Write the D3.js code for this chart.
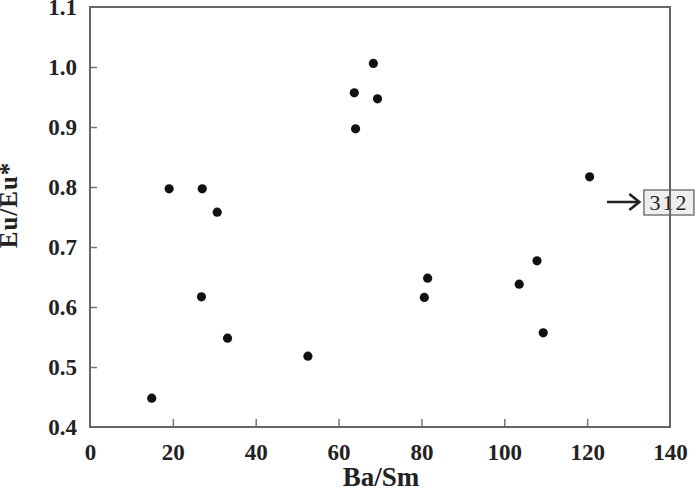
<!DOCTYPE html>
<html>
<head>
<meta charset="utf-8">
<script src="https://cdn.jsdelivr.net/npm/d3@7"></script>
<style>
  body { margin: 0; background: #fff; }
  text { font-family: "Liberation Serif", "DejaVu Serif", serif; font-weight: bold; fill: #222; }
</style>
</head>
<body>
<div id="graph"></div>
<script>
// Ba/Sm vs Eu/Eu* values
var ba_sm = [14.9, 19.1, 27.1, 30.7, 26.9, 33.2, 52.6, 68.4, 63.8, 69.4, 64.1, 81.5, 80.7, 103.6, 107.9, 109.4, 120.6];
var eu_eu = [0.448, 0.797, 0.797, 0.758, 0.617, 0.548, 0.518, 1.006, 0.957, 0.947, 0.897, 0.648, 0.616, 0.638, 0.677, 0.557, 0.817];
var x_ticks = [0, 20, 40, 60, 80, 100, 120, 140];
var y_ticks = [0.4, 0.5, 0.6, 0.7, 0.8, 0.9, 1.0, 1.1];
var note_label = "312";
var note_value = 0.775;

var width = 700;
var height = 492;
var margin = {left: 90, top: 7, right: 28, bottom: 65};

var x = d3.scaleLinear().domain([0, 140]).range([0, 580]);
var y = d3.scaleLinear().domain([0.4, 1.1]).range([420, 0]);

var svg = d3.select("#graph").append("svg")
  .attr("width", width)
  .attr("height", height)
  .append("g")
  .attr("transform", "translate(" + margin.left + "," + margin.top + ")");

//axes with inward ticks
var xAxis = svg.append("g")
  .attr("transform", "translate(0," + y(0.4) + ")")
  .call(d3.axisBottom(x).tickValues(x_ticks).tickSizeInner(-8).tickSizeOuter(0).tickPadding(12));
var yAxis = svg.append("g")
  .call(d3.axisLeft(y).tickValues(y_ticks).tickFormat(d3.format(".1f")).tickSizeInner(-7).tickSizeOuter(0).tickPadding(13));

[xAxis, yAxis].forEach(function(a) {
  a.select(".domain").remove();
  a.selectAll(".tick line").attr("stroke", "#777").attr("stroke-width", 1.5);
  a.selectAll(".tick text")
    .style("font-size", "23px")
    .style("font-family", "Liberation Serif, serif")
    .style("font-weight", "bold")
    .attr("fill", "#333");
});
xAxis.selectAll(".tick text").attr("dy", "0.9em");
//no tick marks at the corners
xAxis.selectAll(".tick line").filter(function(d) { return d === 0 || d === 140; }).remove();
yAxis.selectAll(".tick line").filter(function(d) { return d === 0.4 || d === 1.1; }).remove();

//points
svg.selectAll("circle.pt")
  .data(ba_sm)
  .enter().append("circle")
  .attr("class", "pt")
  .attr("cx", function(d) { return x(d); })
  .attr("cy", function(d, i) { return y(eu_eu[i]); })
  .attr("r", 4.6)
  .attr("fill", "#111");

//annotation arrow and box
var ay = y(note_value);
var ax0 = x(124.8), ax1 = x(132.6);
svg.append("line")
  .attr("x1", ax0).attr("y1", ay).attr("x2", ax1).attr("y2", ay)
  .attr("stroke", "#222").attr("stroke-width", 2.6);
svg.append("path")
  .attr("d", "M" + (ax1 - 10) + "," + (ay - 8) + " L" + ax1 + "," + ay + " L" + (ax1 - 10) + "," + (ay + 8))
  .attr("fill", "none").attr("stroke", "#222").attr("stroke-width", 2.6);
svg.append("rect")
  .attr("x", x(133.7)).attr("y", ay - 12)
  .attr("width", 50).attr("height", 25)
  .attr("fill", "#eee").attr("stroke", "#777").attr("stroke-width", 1.5);
svg.append("text")
  .attr("x", x(133.7) + 25).attr("y", ay + 8)
  .attr("text-anchor", "middle")
  .style("font-size", "22px")
  .style("font-weight", "normal")
  .attr("letter-spacing", 2)
  .text(note_label);

//frame, drawn last so the right edge runs through the box
svg.append("rect")
  .attr("x", 0).attr("y", 0)
  .attr("width", x(140)).attr("height", y(0.4))
  .attr("fill", "none")
  .attr("stroke", "#666")
  .attr("stroke-width", 2);

//axis titles
svg.append("text")
  .attr("x", x(70) + 1).attr("y", 479)
  .attr("text-anchor", "middle")
  .style("font-size", "27px")
  .text("Ba/Sm");
svg.append("text")
  .attr("transform", "translate(-73," + (y(0.77)) + ") rotate(-90)")
  .attr("text-anchor", "middle")
  .style("font-size", "25px")
  .attr("letter-spacing", 1)
  .text("Eu/Eu*");
</script>
</body>
</html>
